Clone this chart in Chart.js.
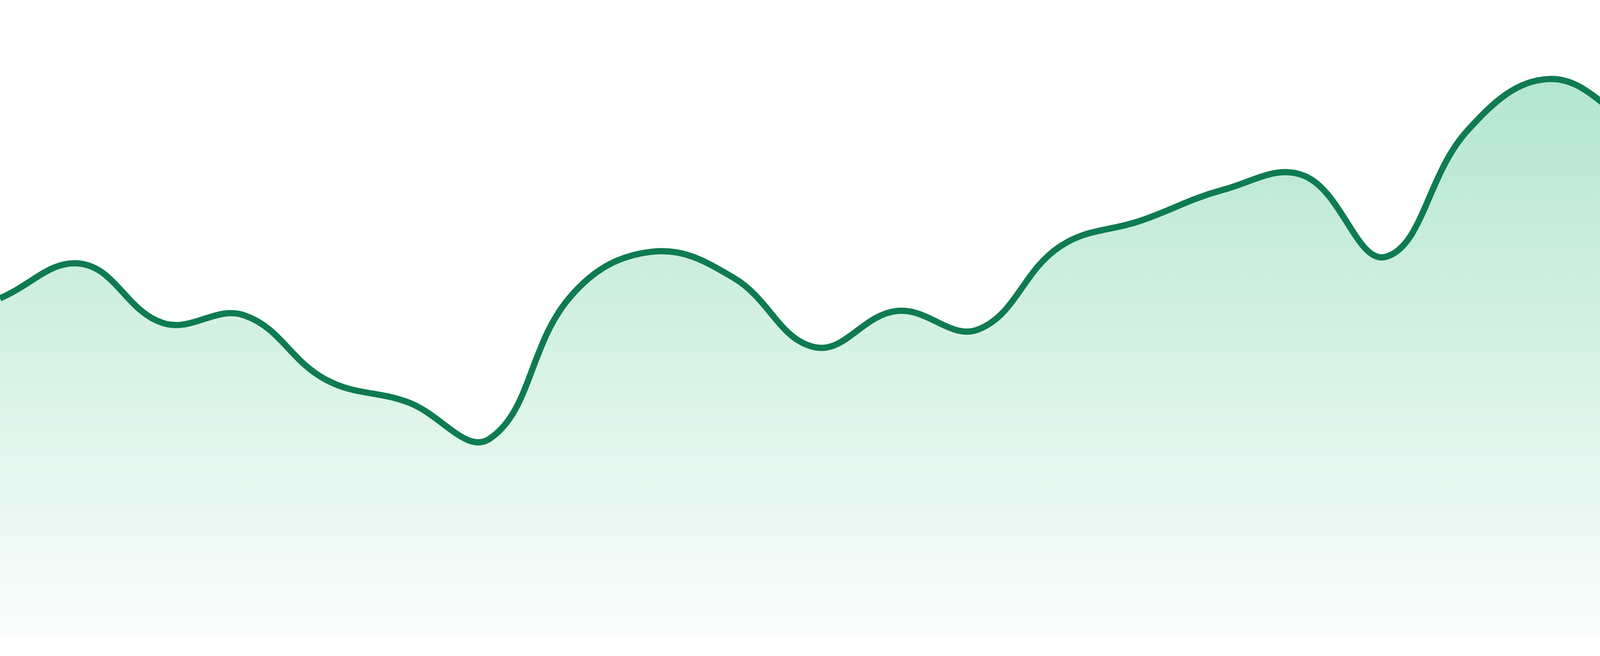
<!DOCTYPE html>
<html>
<head>
<meta charset="utf-8">
<script src="https://cdn.jsdelivr.net/npm/chart.js@4.4.1/dist/chart.umd.min.js"></script>
<style>
  html, body { margin: 0; padding: 0; background: #ffffff; }
  #wrap { width: 4800px; height: 1680px; position: relative; }
</style>
</head>
<body>
<div id="wrap"><canvas id="areaChart"></canvas></div>
<script>
// 24 samples, one line, no visible axes
const labels = [
    "1", "2", "3", "4", "5", "6", "7", "8", "9", "10", "11", "12",
    "13", "14", "15", "16", "17", "18", "19", "20", "21", "22", "23", "24"
];
const values = [
    53.2, 58.6, 49.3, 50.5, 40.4, 36.9, 31.1, 53.5, 60.5, 56.4, 45.5, 51.2,
    48.3, 61.3, 65.4, 70.2, 72.4, 59.7, 79.5, 87.6, 80.6, 71.1, 77.8, 74.0
];
const yMin = 0;
const yMax = 100;

let ctx = document.getElementById('areaChart').getContext('2d');

function areaGradient(context) {
    let chart = context.chart;
    let area = chart.chartArea;
    if (!area) return 'rgba(30, 180, 115, 0.2)';
    let g = chart.ctx.createLinearGradient(0, area.top, 0, area.bottom);
    g.addColorStop(0, 'rgba(30, 180, 115, 0.38)');
    g.addColorStop(1, 'rgba(30, 180, 115, 0.02)');
    return g;
}

let areaChart = new Chart(ctx, {
    type: 'line',
    data: {
        labels: labels,
        datasets: [{
            data: values,
            borderColor: '#0f7b52',
            borderWidth: 16,
            backgroundColor: areaGradient,
            fill: 'start',
            tension: 0.4,
            pointRadius: 0,
            pointHoverRadius: 0
        }]
    },
    options: {
        responsive: true,
        maintainAspectRatio: false,
        animation: false,
        devicePixelRatio: 1,
        layout: { padding: { top: 0, right: 0, bottom: 48, left: 0 } },
        plugins: {
            legend: { display: false },
            tooltip: { enabled: false }
        },
        scales: {
            x: { display: false, offset: false },
            y: { display: false, min: yMin, max: yMax }
        }
    }
});
</script>
</body>
</html>
